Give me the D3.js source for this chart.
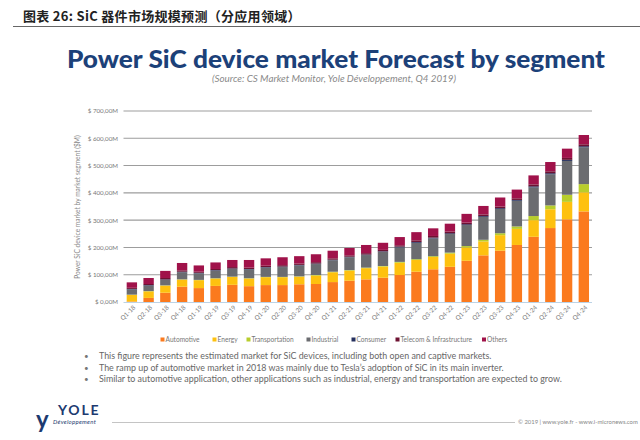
<!DOCTYPE html>
<html><head><meta charset="utf-8">
<script src="https://cdn.jsdelivr.net/npm/d3@7"></script>
<style>body{margin:0;background:#fff;}svg{display:block;}</style>
</head><body>
<svg id="c" width="640" height="440"></svg>
<script>
const quarters = ["Q1-18","Q2-18","Q3-18","Q4-18","Q1-19","Q2-19","Q3-19","Q4-19","Q1-20","Q2-20","Q3-20","Q4-20","Q1-21","Q2-21","Q3-21","Q4-21","Q1-22","Q2-22","Q3-22","Q4-22","Q1-23","Q2-23","Q3-23","Q4-23","Q1-24","Q2-24","Q3-24","Q4-24"];
const automotive     = [2,15,34,56,51,59,63,58,62,62,65,66,73,78,83,89,99,111,120,129,151,171,188,209,239,271,303,332];
const energy         = [24,24,26,26,29,27,29,28,29,29,28,31,36,37,41,41,45,43,45,48,49,51,57,59,61,69,64,70];
const transportation = [1,1,1,1,1,1,1,1,1,1,1,2,2,2,2,2,3,3,3,4,5,6,7,9,15,14,26,30];
const industrial     = [19,20,20,26,24,28,28,32,34,36,40,40,42,47,46,52,53,60,65,68,77,84,89,94,105,114,124,135];
const consumer       = [2,2,2,2,2,2,2,2,2,2,2,2,2,2,2,2,3,3,3,3,3,3,3,3,4,4,4,4];
const telecom        = [4,4,5,5,4,4,5,5,5,5,5,5,5,5,5,5,5,6,6,6,6,6,6,6,7,7,7,7];
const others         = [20,22,26,27,23,24,26,28,27,29,27,29,28,27,30,26,30,30,28,29,32,31,33,32,33,34,34,34];
const segments = ["Automotive","Energy","Transportation","Industrial","Consumer","Telecom & Infrastructure","Others"];
const segColors = ["#fb7a1e","#fec10f","#b8cd2c","#6b6c70","#25305e","#6e1232","#a0124a"];
const yTicks = [0,100,200,300,400,500,600,700];
const yTickLabels = ["$ 0,00M","$ 100,00M","$ 200,00M","$ 300,00M","$ 400,00M","$ 500,00M","$ 600,00M","$ 700,00M"];
const bullets = [
  "This figure represents the estimated market for SiC devices, including both open and captive markets.",
  "The ramp up of automotive market in 2018 was mainly due to Tesla\u2019s adoption of SiC in its main inverter.",
  "Similar to automotive application, other applications such as industrial, energy and transportation are expected to grow."
];

const series = [automotive,energy,transportation,industrial,consumer,telecom,others];
const table = quarters.map((q,i)=>{const o={q}; segments.forEach((s,j)=>o[s]=series[j][i]); return o;});

const svg = d3.select("#c");
const sans = "Lato, 'Open Sans', sans-serif";

// Header
svg.append("text").attr("x",23).attr("y",21).attr("font-family","'Noto Sans CJK SC', sans-serif")
  .attr("font-weight","bold").attr("font-size",13).attr("fill","#222").attr("letter-spacing",0.3)
  .text("图表 26: SiC 器件市场规模预测（分应用领域）");
svg.append("line").attr("x1",13).attr("x2",640).attr("y1",26.5).attr("y2",26.5).attr("stroke","#666").attr("stroke-width",1.2);

// Title
svg.append("text").attr("x",67).attr("y",68).attr("font-family",sans)
  .attr("font-weight","900").attr("font-size",24).attr("fill","#1c4179")
  .attr("textLength",538).attr("lengthAdjust","spacingAndGlyphs")
  .text("Power SiC device market Forecast by segment");
svg.append("text").attr("x",334).attr("y",82).attr("text-anchor","middle").attr("font-family",sans)
  .attr("font-style","italic").attr("font-size",9.8).attr("fill","#8a8a8a").text("(Source: CS Market Monitor, Yole Développement, Q4 2019)");

const x = d3.scaleBand().domain(quarters).range([123.5,592.2]).paddingInner(0.38).paddingOuter(0.19);
const y = d3.scaleLinear().domain([0,700]).range([302,111]);

// gridlines
const g = svg.append("g");
g.selectAll("line.grid").data(yTicks.slice(1)).join("line").attr("class","grid")
  .attr("x1",123.5).attr("x2",592).attr("y1",d=>y(d)).attr("y2",d=>y(d)).attr("stroke","#9d9d9d").attr("stroke-width",1.1);

// y axis labels
const yAxis = d3.axisLeft(y).tickValues(yTicks).tickSize(0).tickPadding(0).tickFormat((d,i)=>yTickLabels[i]);
const ya = svg.append("g").attr("transform","translate(118,0)").call(yAxis);
ya.select(".domain").remove();
ya.selectAll("text").attr("font-family",sans).attr("font-size",6.2).attr("fill","#777");

// stacks
const stack = d3.stack().keys(segments)(table);
svg.append("g").selectAll("g").data(stack).join("g").attr("fill",(d,i)=>segColors[i])
  .selectAll("rect").data(d=>d).join("rect")
  .attr("x",d=>x(d.data.q)).attr("width",x.bandwidth())
  .attr("y",d=>y(d[1])).attr("height",d=>Math.max(0,y(d[0])-y(d[1])));

// base line
svg.append("line").attr("x1",123.5).attr("x2",592).attr("y1",302.5).attr("y2",302.5).attr("stroke","#bcd3e6").attr("stroke-width",1);

// x axis
const xa = svg.append("g").attr("transform","translate(0,303)").call(d3.axisBottom(x).tickSize(0).tickPadding(0));
xa.select(".domain").remove();
xa.selectAll("text").attr("font-family",sans).attr("font-size",6.2).attr("fill","#777")
  .attr("text-anchor","end").attr("dy","0").attr("transform","translate(4,5) rotate(-45)");

// y axis title
svg.append("text").attr("transform","translate(80,207) rotate(-90)").attr("text-anchor","middle")
  .attr("font-family",sans).attr("font-size",6.6).attr("fill","#888").text("Power SiC device market by market segment ($M)");

// legend
const legX = [160.5,212.5,246.5,306.5,351.5,395.5,482];
const lg = svg.append("g").selectAll("g").data(segments).join("g").attr("transform",(d,i)=>`translate(${legX[i]},341)`);
lg.append("rect").attr("x",0).attr("y",-3.5).attr("width",4).attr("height",4).attr("fill",(d,i)=>segColors[i]);
lg.append("text").attr("x",5).attr("y",1).attr("font-family",sans).attr("font-size",6.6).attr("fill","#777").text(d=>d);

// bullets
const bl = svg.append("g").selectAll("g").data(bullets).join("g").attr("transform",(d,i)=>`translate(0,${359+i*11.5})`);
bl.append("text").attr("x",84).attr("y",0).attr("font-family",sans).attr("font-size",8).attr("fill","#777").text("•");
bl.append("text").attr("x",99).attr("y",0).attr("font-family",sans).attr("font-size",8.9).attr("fill","#666").text(d=>d);

// logo
svg.append("text").attr("x",58).attr("y",415).attr("font-family",sans).attr("font-weight","bold").attr("font-size",14).attr("fill","#1c3a70").attr("letter-spacing",1.8).text("YOLE");
svg.append("text").attr("x",36).attr("y",428).attr("font-family",sans).attr("font-weight","bold").attr("font-size",24).attr("fill","#1c3a70").text("y");
svg.append("text").attr("x",53).attr("y",424).attr("font-family",sans).attr("font-style","italic").attr("font-size",6).attr("fill","#1c3a70").attr("letter-spacing",0.3).text("Développement");
svg.append("line").attr("x1",112).attr("x2",515).attr("y1",422.5).attr("y2",422.5).attr("stroke","#aaa").attr("stroke-width",0.7);
svg.append("text").attr("x",518).attr("y",424).attr("font-family",sans).attr("font-size",5.9).attr("fill","#888").text("© 2019 | www.yole.fr - www.i-micronews.com");
</script>
</body></html>
